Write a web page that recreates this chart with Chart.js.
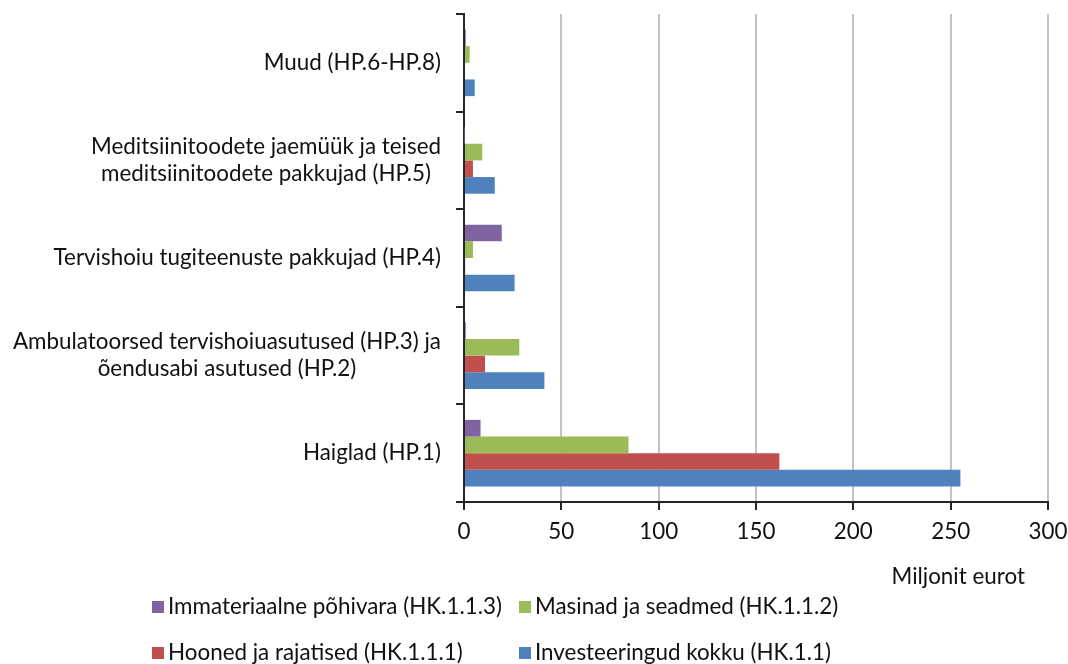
<!DOCTYPE html>
<html>
<head>
<meta charset="utf-8">
<script src="https://cdn.jsdelivr.net/npm/chart.js@4/dist/chart.umd.min.js"></script>
<style>
  html, body { margin: 0; padding: 0; background: #ffffff; }
  #wrap { width: 1068px; height: 664px; }
</style>
</head>
<body>
<div id="wrap"><canvas id="c" width="1068" height="664"></canvas></div>
<script>
// Categories (top to bottom) – multi-line labels are arrays of lines
const categories = [
  ['Muud (HP.6-HP.8)'],
  ['Meditsiinitoodete jaemüük ja teised', 'meditsiinitoodete pakkujad (HP.5)'],
  ['Tervishoiu tugiteenuste pakkujad (HP.4)'],
  ['Ambulatoorsed tervishoiuasutused (HP.3) ja', 'õendusabi asutused (HP.2)'],
  ['Haiglad (HP.1)']
];

// Series values, million euros
const immateriaalne = [0.9, 0.2, 19.4, 0.9, 8.5];
const masinad       = [2.9, 9.4, 4.6, 28.4, 84.5];
const hooned        = [0, 4.6, 0.6, 10.8, 162];
const kokku         = [5.5, 15.8, 26, 41.3, 255];

const seriesNames = [
  'Immateriaalne põhivara (HK.1.1.3)',
  'Masinad ja seadmed (HK.1.1.2)',
  'Hooned ja rajatised (HK.1.1.1)',
  'Investeeringud kokku (HK.1.1)'
];
const seriesColors = ['#8064A2', '#9BBB59', '#C0504D', '#4F81BD'];

const xMin = 0, xMax = 300, xStep = 50;
const axisTitle = 'Miljonit eurot';

const FONT_FAMILY = 'Lato, "Open Sans", sans-serif';
const FONT_SIZE = 22.4;
const TEXT_COLOR = '#111111';

// Category labels, axis title and a two-column legend drawn on the canvas
const extras = {
  id: 'extras',
  afterDraw(chart) {
    const ctx = chart.ctx;
    const yScale = chart.scales.y;
    const area = chart.chartArea;
    ctx.save();
    ctx.font = FONT_SIZE + 'px ' + FONT_FAMILY;
    ctx.fillStyle = TEXT_COLOR;
    ctx.textBaseline = 'middle';

    // category labels: each block right-aligned, lines centered within the block
    ctx.textAlign = 'center';
    categories.forEach((lines, i) => {
      const cy = yScale.getPixelForValue(i);
      const w = Math.max(...lines.map(l => ctx.measureText(l).width));
      const cx = area.left - 23 - w / 2;
      lines.forEach((l, j) => {
        ctx.fillText(l, cx, cy + (j - (lines.length - 1) / 2) * 27);
      });
    });

    // axis title
    ctx.textAlign = 'right';
    ctx.fillText(axisTitle, area.right - 23, 577);

    // legend, 2 x 2
    const cols = [152, 519];
    const rows = [607, 653];
    ctx.textAlign = 'left';
    chart.data.datasets.forEach((ds, i) => {
      const x = cols[i % 2];
      const y = rows[Math.floor(i / 2)];
      ctx.fillStyle = ds.backgroundColor;
      ctx.fillRect(x, y - 6, 12, 12);
      ctx.fillStyle = TEXT_COLOR;
      ctx.fillText(ds.label, x + 16, y);
    });
    ctx.restore();
  }
};

const seriesData = [immateriaalne, masinad, hooned, kokku];

new Chart(document.getElementById('c'), {
  type: 'bar',
  data: {
    labels: categories,
    datasets: seriesData.map((d, i) => ({
      label: seriesNames[i],
      data: d,
      backgroundColor: seriesColors[i],
      borderWidth: 0,
      barPercentage: 1,
      categoryPercentage: 0.683
    }))
  },
  options: {
    indexAxis: 'y',
    responsive: false,
    animation: false,
    devicePixelRatio: 1,
    layout: { padding: { top: 14, right: 20, bottom: 0, left: 0 } },
    plugins: {
      legend: { display: false },
      tooltip: { enabled: false }
    },
    scales: {
      x: {
        min: xMin,
        max: xMax,
        ticks: {
          stepSize: xStep,
          color: TEXT_COLOR,
          font: { family: FONT_FAMILY, size: FONT_SIZE },
          padding: 8
        },
        grid: {
          color: '#c3c3c3',
          lineWidth: 2,
          tickColor: '#262626',
          tickLength: 8,
          tickWidth: 2
        },
        border: { color: '#262626', width: 2 },
        afterFit(scale) {
          scale.height = 162;
          scale.paddingLeft = 0;
          scale.paddingRight = 0;
        }
      },
      y: {
        ticks: { display: false },
        grid: {
          drawOnChartArea: false,
          drawTicks: true,
          tickLength: 8,
          color: '#262626',
          lineWidth: 2,
          offset: true
        },
        border: { color: '#262626', width: 2 },
        afterFit(scale) { scale.width = 464; }
      }
    }
  },
  plugins: [extras]
});
</script>
</body>
</html>
